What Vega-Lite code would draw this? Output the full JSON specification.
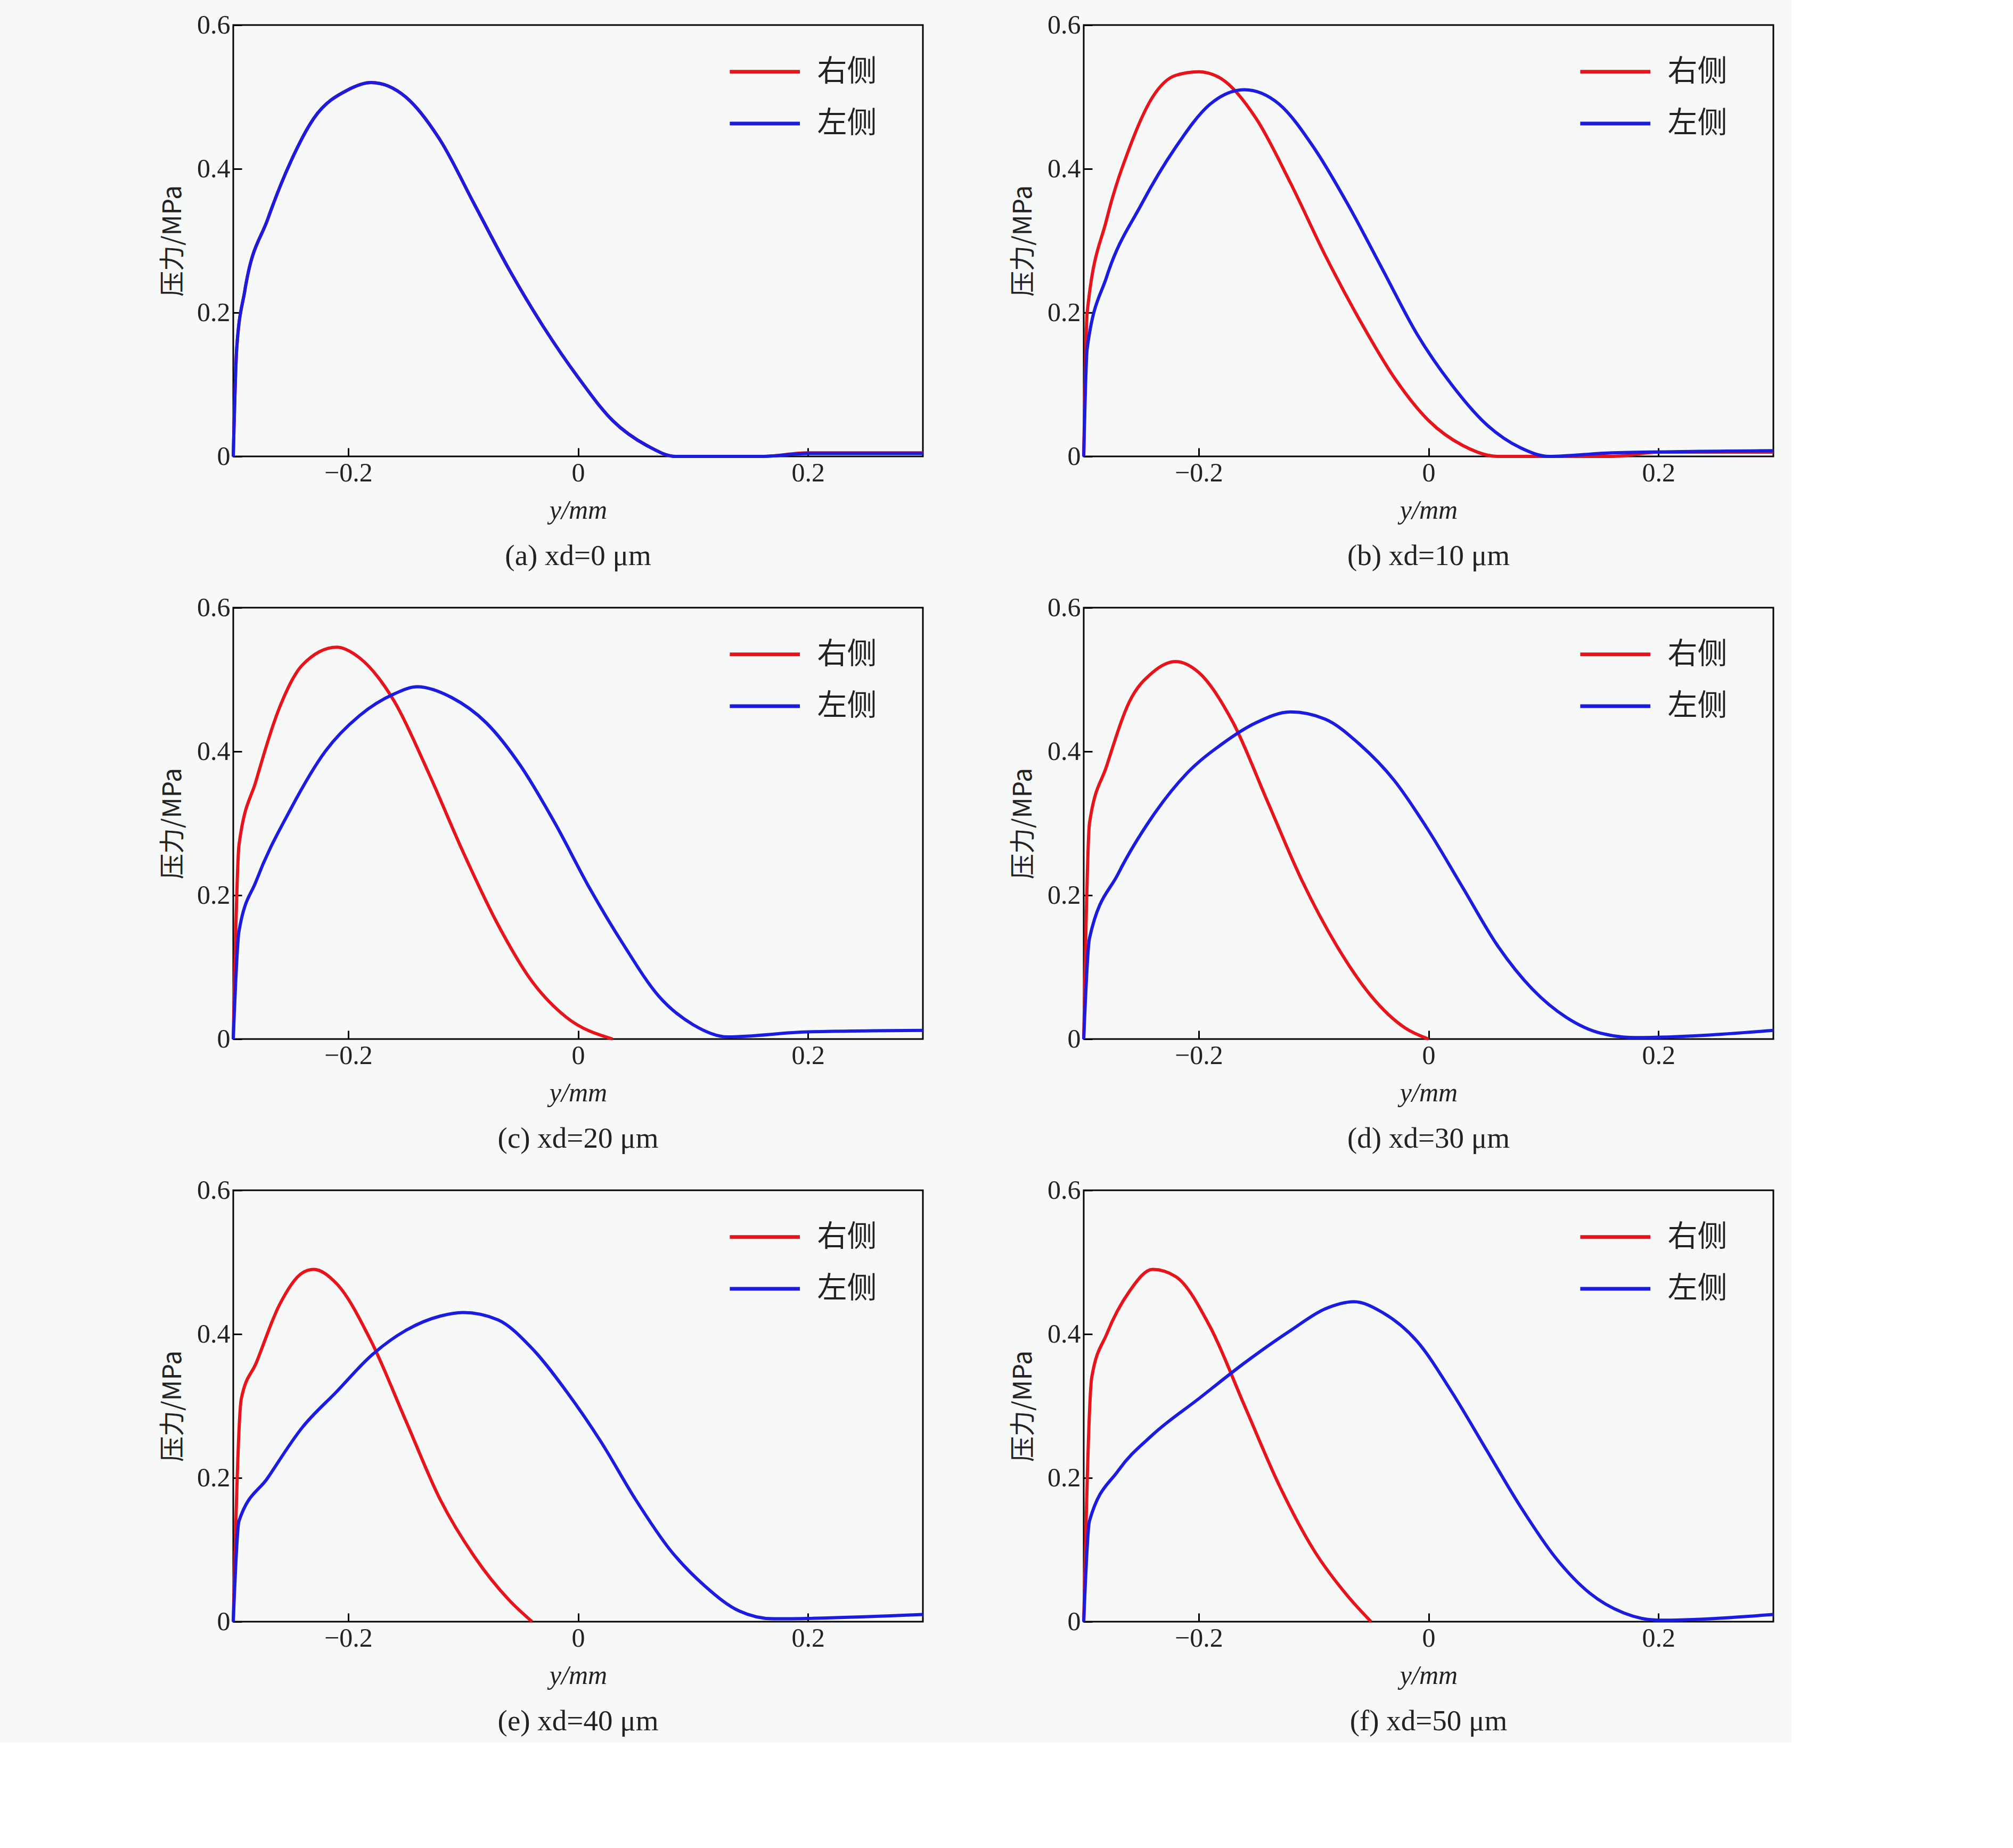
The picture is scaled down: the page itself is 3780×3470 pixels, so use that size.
{
"$schema":"https://vega.github.io/schema/vega-lite/v6.json",
"background":"#f7f8f8",
"padding":{"left":300,"top":20,"right":20,"bottom":10},
"config":{"view":{"stroke":"black","strokeWidth":3},"font":"Liberation Serif",
"title":{"orient":"bottom","font":"Liberation Serif","fontSize":55,"fontWeight":"normal","color":"#222","offset":35,"anchor":"middle"},
"axis":{"labelFont":"Liberation Serif","labelFontSize":50,"titleFont":"Liberation Serif","titleFontSize":50,"titleFontWeight":"normal","labelColor":"#222","titleColor":"#222","domain":false,"grid":false,"tickColor":"black","tickWidth":3,"tickSize":-16,"labelPadding":22}},
"data":{"values":[
{"p":"a","s":"右侧","x":-0.3,"y":0},{"p":"a","s":"右侧","x":-0.297,"y":0.15},{"p":"a","s":"右侧","x":-0.29,"y":0.23},{"p":"a","s":"右侧","x":-0.27,"y":0.33},{"p":"a","s":"右侧","x":-0.25,"y":0.41},{"p":"a","s":"右侧","x":-0.23,"y":0.47},{"p":"a","s":"右侧","x":-0.2,"y":0.51},{"p":"a","s":"右侧","x":-0.18,"y":0.52},{"p":"a","s":"右侧","x":-0.15,"y":0.5},{"p":"a","s":"右侧","x":-0.12,"y":0.44},{"p":"a","s":"右侧","x":-0.09,"y":0.35},{"p":"a","s":"右侧","x":-0.06,"y":0.26},{"p":"a","s":"右侧","x":-0.03,"y":0.18},{"p":"a","s":"右侧","x":0,"y":0.11},{"p":"a","s":"右侧","x":0.03,"y":0.05},{"p":"a","s":"右侧","x":0.06,"y":0.015},{"p":"a","s":"右侧","x":0.085,"y":0},{"p":"a","s":"右侧","x":0.16,"y":0},{"p":"a","s":"右侧","x":0.2,"y":0.005},{"p":"a","s":"右侧","x":0.3,"y":0.005},
{"p":"a","s":"左侧","x":-0.3,"y":0},{"p":"a","s":"左侧","x":-0.297,"y":0.15},{"p":"a","s":"左侧","x":-0.29,"y":0.23},{"p":"a","s":"左侧","x":-0.27,"y":0.33},{"p":"a","s":"左侧","x":-0.25,"y":0.41},{"p":"a","s":"左侧","x":-0.23,"y":0.47},{"p":"a","s":"左侧","x":-0.2,"y":0.51},{"p":"a","s":"左侧","x":-0.18,"y":0.52},{"p":"a","s":"左侧","x":-0.15,"y":0.5},{"p":"a","s":"左侧","x":-0.12,"y":0.44},{"p":"a","s":"左侧","x":-0.09,"y":0.35},{"p":"a","s":"左侧","x":-0.06,"y":0.26},{"p":"a","s":"左侧","x":-0.03,"y":0.18},{"p":"a","s":"左侧","x":0,"y":0.11},{"p":"a","s":"左侧","x":0.03,"y":0.05},{"p":"a","s":"左侧","x":0.06,"y":0.015},{"p":"a","s":"左侧","x":0.085,"y":0},{"p":"a","s":"左侧","x":0.16,"y":0},{"p":"a","s":"左侧","x":0.2,"y":0.004},{"p":"a","s":"左侧","x":0.3,"y":0.004},
{"p":"b","s":"右侧","x":-0.3,"y":0},{"p":"b","s":"右侧","x":-0.297,"y":0.2},{"p":"b","s":"右侧","x":-0.28,"y":0.33},{"p":"b","s":"右侧","x":-0.26,"y":0.43},{"p":"b","s":"右侧","x":-0.24,"y":0.5},{"p":"b","s":"右侧","x":-0.22,"y":0.53},{"p":"b","s":"右侧","x":-0.2,"y":0.535},{"p":"b","s":"右侧","x":-0.18,"y":0.525},{"p":"b","s":"右侧","x":-0.15,"y":0.47},{"p":"b","s":"右侧","x":-0.12,"y":0.38},{"p":"b","s":"右侧","x":-0.09,"y":0.28},{"p":"b","s":"右侧","x":-0.06,"y":0.19},{"p":"b","s":"右侧","x":-0.03,"y":0.11},{"p":"b","s":"右侧","x":0,"y":0.05},{"p":"b","s":"右侧","x":0.03,"y":0.015},{"p":"b","s":"右侧","x":0.06,"y":0},{"p":"b","s":"右侧","x":0.16,"y":0},{"p":"b","s":"右侧","x":0.2,"y":0.006},{"p":"b","s":"右侧","x":0.3,"y":0.006},
{"p":"b","s":"左侧","x":-0.3,"y":0},{"p":"b","s":"左侧","x":-0.297,"y":0.15},{"p":"b","s":"左侧","x":-0.28,"y":0.25},{"p":"b","s":"左侧","x":-0.25,"y":0.35},{"p":"b","s":"左侧","x":-0.22,"y":0.43},{"p":"b","s":"左侧","x":-0.19,"y":0.49},{"p":"b","s":"左侧","x":-0.16,"y":0.51},{"p":"b","s":"左侧","x":-0.13,"y":0.49},{"p":"b","s":"左侧","x":-0.1,"y":0.43},{"p":"b","s":"左侧","x":-0.07,"y":0.35},{"p":"b","s":"左侧","x":-0.04,"y":0.26},{"p":"b","s":"左侧","x":-0.01,"y":0.17},{"p":"b","s":"左侧","x":0.02,"y":0.1},{"p":"b","s":"左侧","x":0.05,"y":0.045},{"p":"b","s":"左侧","x":0.08,"y":0.012},{"p":"b","s":"左侧","x":0.105,"y":0},{"p":"b","s":"左侧","x":0.16,"y":0.005},{"p":"b","s":"左侧","x":0.3,"y":0.008},
{"p":"c","s":"右侧","x":-0.3,"y":0},{"p":"c","s":"右侧","x":-0.295,"y":0.27},{"p":"c","s":"右侧","x":-0.28,"y":0.36},{"p":"c","s":"右侧","x":-0.26,"y":0.46},{"p":"c","s":"右侧","x":-0.24,"y":0.52},{"p":"c","s":"右侧","x":-0.21,"y":0.545},{"p":"c","s":"右侧","x":-0.19,"y":0.53},{"p":"c","s":"右侧","x":-0.16,"y":0.47},{"p":"c","s":"右侧","x":-0.13,"y":0.37},{"p":"c","s":"右侧","x":-0.1,"y":0.26},{"p":"c","s":"右侧","x":-0.07,"y":0.16},{"p":"c","s":"右侧","x":-0.04,"y":0.08},{"p":"c","s":"右侧","x":-0.01,"y":0.03},{"p":"c","s":"右侧","x":0.03,"y":0},
{"p":"c","s":"左侧","x":-0.3,"y":0},{"p":"c","s":"左侧","x":-0.295,"y":0.15},{"p":"c","s":"左侧","x":-0.28,"y":0.22},{"p":"c","s":"左侧","x":-0.25,"y":0.32},{"p":"c","s":"左侧","x":-0.22,"y":0.4},{"p":"c","s":"左侧","x":-0.19,"y":0.45},{"p":"c","s":"左侧","x":-0.16,"y":0.48},{"p":"c","s":"左侧","x":-0.14,"y":0.49},{"p":"c","s":"左侧","x":-0.11,"y":0.475},{"p":"c","s":"左侧","x":-0.08,"y":0.44},{"p":"c","s":"左侧","x":-0.05,"y":0.38},{"p":"c","s":"左侧","x":-0.02,"y":0.3},{"p":"c","s":"左侧","x":0.01,"y":0.21},{"p":"c","s":"左侧","x":0.04,"y":0.13},{"p":"c","s":"左侧","x":0.07,"y":0.06},{"p":"c","s":"左侧","x":0.1,"y":0.02},{"p":"c","s":"左侧","x":0.13,"y":0.003},{"p":"c","s":"左侧","x":0.2,"y":0.01},{"p":"c","s":"左侧","x":0.3,"y":0.012},
{"p":"d","s":"右侧","x":-0.3,"y":0},{"p":"d","s":"右侧","x":-0.295,"y":0.3},{"p":"d","s":"右侧","x":-0.28,"y":0.38},{"p":"d","s":"右侧","x":-0.26,"y":0.47},{"p":"d","s":"右侧","x":-0.24,"y":0.51},{"p":"d","s":"右侧","x":-0.22,"y":0.525},{"p":"d","s":"右侧","x":-0.2,"y":0.51},{"p":"d","s":"右侧","x":-0.17,"y":0.44},{"p":"d","s":"右侧","x":-0.14,"y":0.33},{"p":"d","s":"右侧","x":-0.11,"y":0.22},{"p":"d","s":"右侧","x":-0.08,"y":0.13},{"p":"d","s":"右侧","x":-0.05,"y":0.06},{"p":"d","s":"右侧","x":-0.02,"y":0.015},{"p":"d","s":"右侧","x":0,"y":0},
{"p":"d","s":"左侧","x":-0.3,"y":0},{"p":"d","s":"左侧","x":-0.295,"y":0.14},{"p":"d","s":"左侧","x":-0.27,"y":0.23},{"p":"d","s":"左侧","x":-0.24,"y":0.31},{"p":"d","s":"左侧","x":-0.21,"y":0.37},{"p":"d","s":"左侧","x":-0.18,"y":0.41},{"p":"d","s":"左侧","x":-0.15,"y":0.44},{"p":"d","s":"左侧","x":-0.12,"y":0.455},{"p":"d","s":"左侧","x":-0.09,"y":0.445},{"p":"d","s":"左侧","x":-0.06,"y":0.41},{"p":"d","s":"左侧","x":-0.03,"y":0.36},{"p":"d","s":"左侧","x":0,"y":0.29},{"p":"d","s":"左侧","x":0.03,"y":0.21},{"p":"d","s":"左侧","x":0.06,"y":0.13},{"p":"d","s":"左侧","x":0.09,"y":0.07},{"p":"d","s":"左侧","x":0.12,"y":0.03},{"p":"d","s":"左侧","x":0.15,"y":0.008},{"p":"d","s":"左侧","x":0.18,"y":0.002},{"p":"d","s":"左侧","x":0.3,"y":0.012},
{"p":"e","s":"右侧","x":-0.3,"y":0},{"p":"e","s":"右侧","x":-0.293,"y":0.31},{"p":"e","s":"右侧","x":-0.28,"y":0.36},{"p":"e","s":"右侧","x":-0.26,"y":0.44},{"p":"e","s":"右侧","x":-0.24,"y":0.485},{"p":"e","s":"右侧","x":-0.23,"y":0.49},{"p":"e","s":"右侧","x":-0.21,"y":0.47},{"p":"e","s":"右侧","x":-0.18,"y":0.39},{"p":"e","s":"右侧","x":-0.15,"y":0.28},{"p":"e","s":"右侧","x":-0.12,"y":0.17},{"p":"e","s":"右侧","x":-0.09,"y":0.09},{"p":"e","s":"右侧","x":-0.06,"y":0.03},{"p":"e","s":"右侧","x":-0.04,"y":0},
{"p":"e","s":"左侧","x":-0.3,"y":0},{"p":"e","s":"左侧","x":-0.295,"y":0.14},{"p":"e","s":"左侧","x":-0.27,"y":0.2},{"p":"e","s":"左侧","x":-0.24,"y":0.27},{"p":"e","s":"左侧","x":-0.21,"y":0.32},{"p":"e","s":"左侧","x":-0.18,"y":0.37},{"p":"e","s":"左侧","x":-0.15,"y":0.405},{"p":"e","s":"左侧","x":-0.12,"y":0.425},{"p":"e","s":"左侧","x":-0.1,"y":0.43},{"p":"e","s":"左侧","x":-0.07,"y":0.42},{"p":"e","s":"左侧","x":-0.04,"y":0.38},{"p":"e","s":"左侧","x":-0.01,"y":0.32},{"p":"e","s":"左侧","x":0.02,"y":0.25},{"p":"e","s":"左侧","x":0.05,"y":0.17},{"p":"e","s":"左侧","x":0.08,"y":0.1},{"p":"e","s":"左侧","x":0.11,"y":0.05},{"p":"e","s":"左侧","x":0.14,"y":0.015},{"p":"e","s":"左侧","x":0.17,"y":0.004},{"p":"e","s":"左侧","x":0.3,"y":0.01},
{"p":"f","s":"右侧","x":-0.3,"y":0},{"p":"f","s":"右侧","x":-0.293,"y":0.34},{"p":"f","s":"右侧","x":-0.28,"y":0.4},{"p":"f","s":"右侧","x":-0.26,"y":0.46},{"p":"f","s":"右侧","x":-0.24,"y":0.49},{"p":"f","s":"右侧","x":-0.22,"y":0.48},{"p":"f","s":"右侧","x":-0.19,"y":0.41},{"p":"f","s":"右侧","x":-0.16,"y":0.3},{"p":"f","s":"右侧","x":-0.13,"y":0.19},{"p":"f","s":"右侧","x":-0.1,"y":0.1},{"p":"f","s":"右侧","x":-0.07,"y":0.035},{"p":"f","s":"右侧","x":-0.05,"y":0},
{"p":"f","s":"左侧","x":-0.3,"y":0},{"p":"f","s":"左侧","x":-0.295,"y":0.14},{"p":"f","s":"左侧","x":-0.27,"y":0.21},{"p":"f","s":"左侧","x":-0.24,"y":0.26},{"p":"f","s":"左侧","x":-0.2,"y":0.31},{"p":"f","s":"左侧","x":-0.16,"y":0.36},{"p":"f","s":"左侧","x":-0.12,"y":0.405},{"p":"f","s":"左侧","x":-0.09,"y":0.435},{"p":"f","s":"左侧","x":-0.065,"y":0.445},{"p":"f","s":"左侧","x":-0.04,"y":0.43},{"p":"f","s":"左侧","x":-0.01,"y":0.39},{"p":"f","s":"左侧","x":0.02,"y":0.32},{"p":"f","s":"左侧","x":0.05,"y":0.24},{"p":"f","s":"左侧","x":0.08,"y":0.16},{"p":"f","s":"左侧","x":0.11,"y":0.09},{"p":"f","s":"左侧","x":0.14,"y":0.04},{"p":"f","s":"左侧","x":0.17,"y":0.012},{"p":"f","s":"左侧","x":0.2,"y":0.002},{"p":"f","s":"左侧","x":0.3,"y":0.01},
{"k":"leg","s":"右侧","x":0.132,"x2":0.193,"y":0.535,"xt":0.208},{"k":"leg","s":"左侧","x":0.132,"x2":0.193,"y":0.463,"xt":0.208}
]},
"columns":2,
"spacing":{"column":150,"row":40},
"concat":[
{"title":"(a) xd=0 μm","width":1295,"height":810,"layer":[
 {"transform":[{"filter":"datum.p=='a'"}],"mark":{"type":"line","strokeWidth":6,"interpolate":"monotone"},"encoding":{"x":{"field":"x","type":"quantitative","scale":{"domain":[-0.3,0.3],"nice":false},"axis":{"values":[-0.2,0,0.2],"format":".1~f","title":"y/mm","titlePadding":20,"titleFontStyle":"italic","labelExpr":"replace(datum.label,'-','−')"}},"y":{"field":"y","type":"quantitative","scale":{"domain":[0,0.6],"nice":false},"axis":{"values":[0,0.2,0.4,0.6],"format":".1~f","title":"压力/MPa","titleFont":"Noto Sans CJK SC","titleFontSize":48,"titlePadding":20}},"color":{"field":"s","type":"nominal","scale":{"domain":["右侧","左侧"],"range":["#e8141c","#1c1ce0"]},"legend":null}}},
 {"transform":[{"filter":"datum.k=='leg'"}],"mark":{"type":"rule","strokeWidth":7},"encoding":{"x":{"field":"x","type":"quantitative"},"x2":{"field":"x2"},"y":{"field":"y","type":"quantitative"},"color":{"field":"s","type":"nominal","legend":null}}},
 {"transform":[{"filter":"datum.k=='leg'"}],"mark":{"type":"text","align":"left","baseline":"middle","font":"Noto Sans CJK SC","fontSize":56,"color":"#222"},"encoding":{"x":{"field":"xt","type":"quantitative"},"y":{"field":"y","type":"quantitative"},"text":{"field":"s"}}}]},
{"title":"(b) xd=10 μm","width":1295,"height":810,"layer":[
 {"transform":[{"filter":"datum.p=='b'"}],"mark":{"type":"line","strokeWidth":6,"interpolate":"monotone"},"encoding":{"x":{"field":"x","type":"quantitative","scale":{"domain":[-0.3,0.3],"nice":false},"axis":{"values":[-0.2,0,0.2],"format":".1~f","title":"y/mm","titlePadding":20,"titleFontStyle":"italic","labelExpr":"replace(datum.label,'-','−')"}},"y":{"field":"y","type":"quantitative","scale":{"domain":[0,0.6],"nice":false},"axis":{"values":[0,0.2,0.4,0.6],"format":".1~f","title":"压力/MPa","titleFont":"Noto Sans CJK SC","titleFontSize":48,"titlePadding":20}},"color":{"field":"s","type":"nominal","scale":{"domain":["右侧","左侧"],"range":["#e8141c","#1c1ce0"]},"legend":null}}},
 {"transform":[{"filter":"datum.k=='leg'"}],"mark":{"type":"rule","strokeWidth":7},"encoding":{"x":{"field":"x","type":"quantitative"},"x2":{"field":"x2"},"y":{"field":"y","type":"quantitative"},"color":{"field":"s","type":"nominal","legend":null}}},
 {"transform":[{"filter":"datum.k=='leg'"}],"mark":{"type":"text","align":"left","baseline":"middle","font":"Noto Sans CJK SC","fontSize":56,"color":"#222"},"encoding":{"x":{"field":"xt","type":"quantitative"},"y":{"field":"y","type":"quantitative"},"text":{"field":"s"}}}]},
{"title":"(c) xd=20 μm","width":1295,"height":810,"layer":[
 {"transform":[{"filter":"datum.p=='c'"}],"mark":{"type":"line","strokeWidth":6,"interpolate":"monotone"},"encoding":{"x":{"field":"x","type":"quantitative","scale":{"domain":[-0.3,0.3],"nice":false},"axis":{"values":[-0.2,0,0.2],"format":".1~f","title":"y/mm","titlePadding":20,"titleFontStyle":"italic","labelExpr":"replace(datum.label,'-','−')"}},"y":{"field":"y","type":"quantitative","scale":{"domain":[0,0.6],"nice":false},"axis":{"values":[0,0.2,0.4,0.6],"format":".1~f","title":"压力/MPa","titleFont":"Noto Sans CJK SC","titleFontSize":48,"titlePadding":20}},"color":{"field":"s","type":"nominal","scale":{"domain":["右侧","左侧"],"range":["#e8141c","#1c1ce0"]},"legend":null}}},
 {"transform":[{"filter":"datum.k=='leg'"}],"mark":{"type":"rule","strokeWidth":7},"encoding":{"x":{"field":"x","type":"quantitative"},"x2":{"field":"x2"},"y":{"field":"y","type":"quantitative"},"color":{"field":"s","type":"nominal","legend":null}}},
 {"transform":[{"filter":"datum.k=='leg'"}],"mark":{"type":"text","align":"left","baseline":"middle","font":"Noto Sans CJK SC","fontSize":56,"color":"#222"},"encoding":{"x":{"field":"xt","type":"quantitative"},"y":{"field":"y","type":"quantitative"},"text":{"field":"s"}}}]},
{"title":"(d) xd=30 μm","width":1295,"height":810,"layer":[
 {"transform":[{"filter":"datum.p=='d'"}],"mark":{"type":"line","strokeWidth":6,"interpolate":"monotone"},"encoding":{"x":{"field":"x","type":"quantitative","scale":{"domain":[-0.3,0.3],"nice":false},"axis":{"values":[-0.2,0,0.2],"format":".1~f","title":"y/mm","titlePadding":20,"titleFontStyle":"italic","labelExpr":"replace(datum.label,'-','−')"}},"y":{"field":"y","type":"quantitative","scale":{"domain":[0,0.6],"nice":false},"axis":{"values":[0,0.2,0.4,0.6],"format":".1~f","title":"压力/MPa","titleFont":"Noto Sans CJK SC","titleFontSize":48,"titlePadding":20}},"color":{"field":"s","type":"nominal","scale":{"domain":["右侧","左侧"],"range":["#e8141c","#1c1ce0"]},"legend":null}}},
 {"transform":[{"filter":"datum.k=='leg'"}],"mark":{"type":"rule","strokeWidth":7},"encoding":{"x":{"field":"x","type":"quantitative"},"x2":{"field":"x2"},"y":{"field":"y","type":"quantitative"},"color":{"field":"s","type":"nominal","legend":null}}},
 {"transform":[{"filter":"datum.k=='leg'"}],"mark":{"type":"text","align":"left","baseline":"middle","font":"Noto Sans CJK SC","fontSize":56,"color":"#222"},"encoding":{"x":{"field":"xt","type":"quantitative"},"y":{"field":"y","type":"quantitative"},"text":{"field":"s"}}}]},
{"title":"(e) xd=40 μm","width":1295,"height":810,"layer":[
 {"transform":[{"filter":"datum.p=='e'"}],"mark":{"type":"line","strokeWidth":6,"interpolate":"monotone"},"encoding":{"x":{"field":"x","type":"quantitative","scale":{"domain":[-0.3,0.3],"nice":false},"axis":{"values":[-0.2,0,0.2],"format":".1~f","title":"y/mm","titlePadding":20,"titleFontStyle":"italic","labelExpr":"replace(datum.label,'-','−')"}},"y":{"field":"y","type":"quantitative","scale":{"domain":[0,0.6],"nice":false},"axis":{"values":[0,0.2,0.4,0.6],"format":".1~f","title":"压力/MPa","titleFont":"Noto Sans CJK SC","titleFontSize":48,"titlePadding":20}},"color":{"field":"s","type":"nominal","scale":{"domain":["右侧","左侧"],"range":["#e8141c","#1c1ce0"]},"legend":null}}},
 {"transform":[{"filter":"datum.k=='leg'"}],"mark":{"type":"rule","strokeWidth":7},"encoding":{"x":{"field":"x","type":"quantitative"},"x2":{"field":"x2"},"y":{"field":"y","type":"quantitative"},"color":{"field":"s","type":"nominal","legend":null}}},
 {"transform":[{"filter":"datum.k=='leg'"}],"mark":{"type":"text","align":"left","baseline":"middle","font":"Noto Sans CJK SC","fontSize":56,"color":"#222"},"encoding":{"x":{"field":"xt","type":"quantitative"},"y":{"field":"y","type":"quantitative"},"text":{"field":"s"}}}]},
{"title":"(f) xd=50 μm","width":1295,"height":810,"layer":[
 {"transform":[{"filter":"datum.p=='f'"}],"mark":{"type":"line","strokeWidth":6,"interpolate":"monotone"},"encoding":{"x":{"field":"x","type":"quantitative","scale":{"domain":[-0.3,0.3],"nice":false},"axis":{"values":[-0.2,0,0.2],"format":".1~f","title":"y/mm","titlePadding":20,"titleFontStyle":"italic","labelExpr":"replace(datum.label,'-','−')"}},"y":{"field":"y","type":"quantitative","scale":{"domain":[0,0.6],"nice":false},"axis":{"values":[0,0.2,0.4,0.6],"format":".1~f","title":"压力/MPa","titleFont":"Noto Sans CJK SC","titleFontSize":48,"titlePadding":20}},"color":{"field":"s","type":"nominal","scale":{"domain":["右侧","左侧"],"range":["#e8141c","#1c1ce0"]},"legend":null}}},
 {"transform":[{"filter":"datum.k=='leg'"}],"mark":{"type":"rule","strokeWidth":7},"encoding":{"x":{"field":"x","type":"quantitative"},"x2":{"field":"x2"},"y":{"field":"y","type":"quantitative"},"color":{"field":"s","type":"nominal","legend":null}}},
 {"transform":[{"filter":"datum.k=='leg'"}],"mark":{"type":"text","align":"left","baseline":"middle","font":"Noto Sans CJK SC","fontSize":56,"color":"#222"},"encoding":{"x":{"field":"xt","type":"quantitative"},"y":{"field":"y","type":"quantitative"},"text":{"field":"s"}}}]}
]
}
